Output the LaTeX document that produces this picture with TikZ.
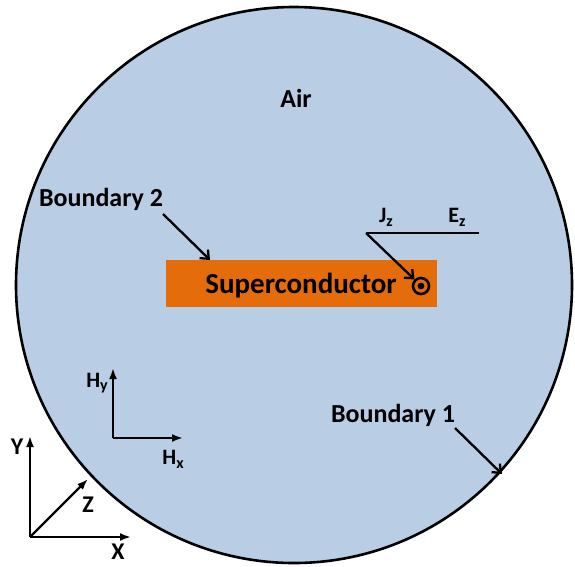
\documentclass[tikz,border=0pt]{standalone}
\usepackage{fontspec}
\setmainfont{Carlito}
\usetikzlibrary{arrows.meta}
\definecolor{airblue}{HTML}{B9CDE5}
\definecolor{scorange}{HTML}{E46C0A}
\newcommand{\subz}[1]{\raisebox{-0.35ex}{\fontsize{16}{18}\selectfont #1}}
\tikzset{
  lbl/.style={font=\bfseries\fontsize{26}{30}\selectfont, inner sep=0pt},
  axlbl/.style={font=\bfseries\fontsize{24}{28}\selectfont, inner sep=0pt},
  sublbl/.style={font=\bfseries\fontsize{22}{26}\selectfont, inner sep=0pt},
  ptr/.style={line width=2.3pt, -{Straight Barb[length=7pt,width=12pt,line width=2.3pt]}},
  ax/.style={line width=2.3pt, -{Latex[length=11pt,width=8pt]}},
  plain/.style={line width=2.3pt}
}
\begin{document}
\begin{tikzpicture}[x=1pt,y=-1pt]
\useasboundingbox (0,0) rectangle (575,566);
% air domain
\node (air) [circle, draw, line width=2.6pt, fill=airblue, minimum size=556pt, inner sep=0pt] at (294,285) {};
% superconductor
\node (sc) [fill=scorange, minimum width=271pt, minimum height=47pt, inner sep=0pt, anchor=north west] at (166,260) {};
\node (sctext) [font=\bfseries\fontsize{29}{33}\selectfont, inner sep=0pt] at (301,286) {Superconductor};
% out-of-plane current symbol
\node (dot) [circle, draw, line width=2.6pt, minimum size=16pt, inner sep=0pt] at (421,286) {};
\fill (dot.center) circle (3.4pt);
% labels
\node (airlbl) [lbl] at (296,98) {Air};
\node (b2) [lbl] at (101,199) {Boundary 2};
\node (b1) [lbl] at (393,415) {Boundary 1};
\node (jz) [sublbl] at (386,217) {J\subz{z}};
\node (ez) [sublbl] at (457,217) {E\subz{z}};
% pointers
\coordinate (b2s) at (163,214);
\coordinate (b2e) at (210,260);
\draw[ptr] (b2s) -- (b2e);
\coordinate (b1s) at (455,428);
\coordinate (b1e) at (502,474);
\draw[ptr] (b1s) -- (b1e);
\coordinate (jzs) at (366,233);
\coordinate (jze) at (479,233);
\draw[plain] (jzs) -- (jze);
\draw[ptr] (jzs) -- (dot.north west);
% H axes
\coordinate (ho) at (113,438);
\coordinate (hy) at (113,368);
\coordinate (hx) at (183,438);
\draw[ax] (ho) -- (hy);
\draw[ax] (ho) -- (hx);
\node (hylbl) [sublbl] at (97,383) {H\subz{y}};
\node (hxlbl) [sublbl] at (173,459) {H\subz{x}};
% XYZ axes
\coordinate (o) at (30,537);
\coordinate (ye) at (30,436);
\coordinate (xe) at (131,537);
\coordinate (ze) at (88,479);
\draw[ax] (o) -- (ye);
\draw[ax] (o) -- (xe);
\draw[ax] (o) -- (ze);
\node (ylbl) [axlbl] at (17,447) {Y};
\node (xlbl) [axlbl] at (118,552) {X};
\node (zlbl) [axlbl] at (88,505) {Z};
\end{tikzpicture}
\end{document}
